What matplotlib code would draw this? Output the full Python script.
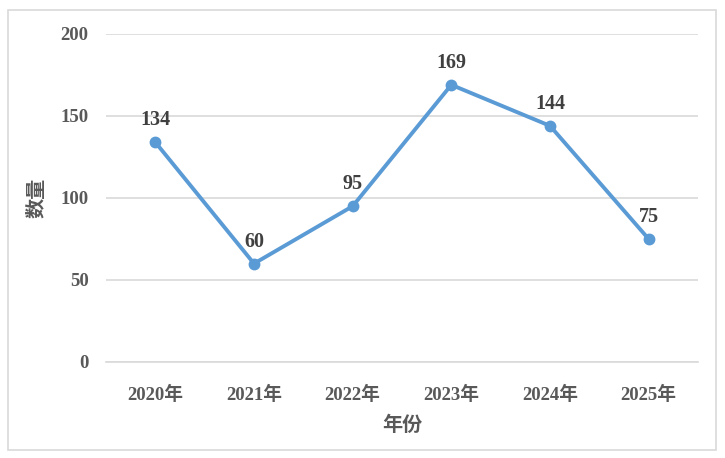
import matplotlib
matplotlib.use("Agg")
import matplotlib.pyplot as plt
from matplotlib.patches import Rectangle

# data
years = ['2020年', '2021年', '2022年', '2023年', '2024年', '2025年']
counts = [134, 60, 95, 169, 144, 75]
yticks = [0, 50, 100, 150, 200]

mixed = ['Liberation Serif', 'Noto Sans CJK SC']
cjk = ['Noto Sans CJK SC', 'DejaVu Sans']

fig = plt.figure(figsize=(7.25, 4.58), dpi=100)
ax = fig.add_axes([106/725, 1 - 362/458, 592/725, 328/458])

# outer chart border
fig.patches.append(Rectangle((8/725, 1 - 450/458), 708/725, 440/458,
                             transform=fig.transFigure, fill=False,
                             edgecolor='#d9d9d9', linewidth=1.2))

x = list(range(len(years)))
ax.plot(x, counts, color='#5b9bd5', linewidth=2.8, marker='o',
        markersize=7.5, zorder=3)

for xi, v in zip(x, counts):
    ax.annotate(str(v), (xi, v), xytext=(0, 8.5), textcoords='offset points',
                ha='center', va='bottom', fontsize=14.5, fontweight='bold',
                family='Liberation Serif', color='#404040')

ax.set_xlim(-0.5, len(years) - 0.5)
ax.set_ylim(0, 200)
ax.set_yticks(yticks)
ax.grid(axis='y', color='#d9d9d9', linewidth=1.2)
ax.set_axisbelow(True)
for s in ['top', 'right', 'left']:
    ax.spines[s].set_visible(False)
ax.spines['bottom'].set_color('#d9d9d9')
ax.spines['bottom'].set_linewidth(1.2)
ax.tick_params(axis='both', length=0)
ax.tick_params(axis='x', pad=17)
ax.tick_params(axis='y', pad=12.5)

ax.set_xticks(x)
ax.set_xticklabels(years, family=mixed, fontweight='bold', fontsize=13.5,
                   color='#595959')
for lab in ax.get_yticklabels():
    lab.set_family('Liberation Serif')
    lab.set_fontweight('bold')
    lab.set_fontsize(13.5)
    lab.set_color('#595959')

ax.set_xlabel('年份', family=cjk, fontweight='bold', fontsize=14.5,
              color='#595959', labelpad=7)
ax.set_ylabel('数量', family=cjk, fontweight='bold', fontsize=14.5,
              color='#595959', labelpad=10)

fig.savefig('out.png', dpi=100)
